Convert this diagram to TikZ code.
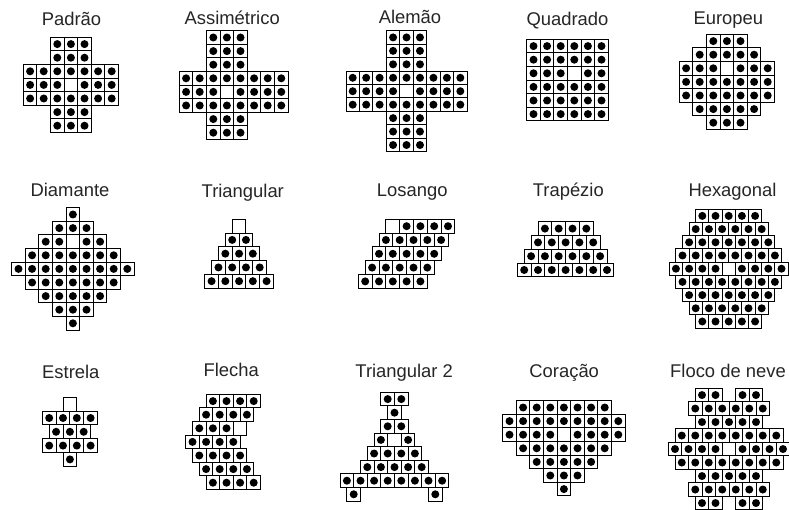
\documentclass[tikz,border=0pt]{standalone}
\usepackage{fontspec}
\setmainfont{Liberation Sans}
\tikzset{
  cellbox/.style={draw=black, line width=1pt, fill=white},
  pegdot/.style={fill=black},
  ttl/.style={anchor=base, inner sep=0pt, font=\fontsize{18.4}{22}\selectfont, text=black!85},
  ttlw/.style={ttl, anchor=base west}
}
\newcommand\setboard[3]{\def\brdx{#1}\def\brdy{#2}\def\brds{#3}}
% #1 row index, #2 offset (cells), #3 list: 1 peg, 0 empty hole, 2 none
\newcommand\pegrow[3]{%
  \foreach \k [count=\c from 0] in {#3} {%
    \ifnum\k<2\relax
      \pgfmathsetmacro\pgx{\brdx+(#2+\c)*\brds}%
      \pgfmathsetmacro\pgy{\brdy+(#1)*\brds}%
      \draw[cellbox] (\pgx,\pgy) rectangle ++(\brds,\brds);%
      \ifnum\k=1\relax
        \fill[pegdot] (\pgx+0.5*\brds,\pgy+0.5*\brds) circle[radius=4pt];%
      \fi
    \fi
  }}
\begin{document}
\begin{tikzpicture}[x=1pt,y=-1pt]
\useasboundingbox (0,0) rectangle (789,510);
\clip (0,0) rectangle (789,510);
\fill[white] (0,0) rectangle (789,510);

% ---------- Row 1 ----------
\node[ttl] (tPadrao) at (71.5,25.3) {Padrão};
\setboard{23.3}{37.3}{13.6}
\pegrow{0}{2}{1,1,1}
\pegrow{1}{2}{1,1,1}
\pegrow{2}{0}{1,1,1,1,1,1,1}
\pegrow{3}{0}{1,1,1,0,1,1,1}
\pegrow{4}{0}{1,1,1,1,1,1,1}
\pegrow{5}{2}{1,1,1}
\pegrow{6}{2}{1,1,1}

\node[ttl] (tAssim) at (232.2,25) {Assimétrico};
\setboard{179.3}{30.7}{13.6}
\pegrow{0}{2}{1,1,1}
\pegrow{1}{2}{1,1,1}
\pegrow{2}{2}{1,1,1}
\pegrow{3}{0}{1,1,1,1,1,1,1,1}
\pegrow{4}{0}{1,1,1,0,1,1,1,1}
\pegrow{5}{0}{1,1,1,1,1,1,1,1}
\pegrow{6}{2}{1,1,1}
\pegrow{7}{2}{1,1,1}

\node[ttl] (tAlemao) at (410,24) {Alemão};
\setboard{346}{30.7}{13.45}
\pegrow{0}{3}{1,1,1}
\pegrow{1}{3}{1,1,1}
\pegrow{2}{3}{1,1,1}
\pegrow{3}{0}{1,1,1,1,1,1,1,1,1}
\pegrow{4}{0}{1,1,1,1,0,1,1,1,1}
\pegrow{5}{0}{1,1,1,1,1,1,1,1,1}
\pegrow{6}{3}{1,1,1}
\pegrow{7}{3}{1,1,1}
\pegrow{8}{3}{1,1,1}

\node[ttl] (tQuad) at (567.5,26) {Quadrado};
\setboard{526.7}{39.3}{13.6}
\pegrow{0}{0}{1,1,1,1,1,1}
\pegrow{1}{0}{1,1,1,1,1,1}
\pegrow{2}{0}{1,1,1,0,1,1}
\pegrow{3}{0}{1,1,1,1,1,1}
\pegrow{4}{0}{1,1,1,1,1,1}
\pegrow{5}{0}{1,1,1,1,1,1}

\node[ttl] (tEuro) at (728.3,25) {Europeu};
\setboard{679.3}{34.3}{13.6}
\pegrow{0}{2}{1,1,1}
\pegrow{1}{1}{1,1,1,1,1}
\pegrow{2}{0}{1,1,1,0,1,1,1}
\pegrow{3}{0}{1,1,1,1,1,1,1}
\pegrow{4}{0}{1,1,1,1,1,1,1}
\pegrow{5}{1}{1,1,1,1,1}
\pegrow{6}{2}{1,1,1}

% ---------- Row 2 ----------
\node[ttl] (tDiam) at (70,196.7) {Diamante};
\setboard{11.7}{207.7}{13.6}
\pegrow{0}{4}{1}
\pegrow{1}{3}{1,1,1}
\pegrow{2}{2}{1,1,0,1,1}
\pegrow{3}{1}{1,1,1,1,1,1,1}
\pegrow{4}{0}{1,1,1,1,1,1,1,1,1}
\pegrow{5}{1}{1,1,1,1,1,1,1}
\pegrow{6}{2}{1,1,1,1,1}
\pegrow{7}{3}{1,1,1}
\pegrow{8}{4}{1}

\node[ttl] (tTri) at (242.8,197.5) {Triangular};
\setboard{204.7}{219.3}{13.75}
\pegrow{0}{2}{0}
\pegrow{1}{1.5}{1,1}
\pegrow{2}{1}{1,1,1}
\pegrow{3}{0.5}{1,1,1,1}
\pegrow{4}{0}{1,1,1,1,1}

\node[ttl] (tLos) at (412.2,196.7) {Losango};
\setboard{358.3}{219.3}{13.8}
\pegrow{0}{2}{0,1,1,1,1}
\pegrow{1}{1.5}{1,1,1,1,1}
\pegrow{2}{1}{1,1,1,1,1}
\pegrow{3}{0.5}{1,1,1,1,1}
\pegrow{4}{0}{1,1,1,1,1}

\node[ttl] (tTrap) at (568.3,196.7) {Trapézio};
\setboard{517.3}{221.7}{13.8}
\pegrow{0}{1.5}{1,1,1,1}
\pegrow{1}{1}{1,1,1,1,1}
\pegrow{2}{0.5}{1,1,1,1,1,1}
\pegrow{3}{0}{1,1,1,1,1,1,1}

\node[ttl] (tHex) at (732.5,196.7) {Hexagonal};
\setboard{669.3}{209.3}{13.2}
\pegrow{0}{2}{1,1,1,1,1}
\pegrow{1}{1.5}{1,1,1,1,1,1}
\pegrow{2}{1}{1,1,1,1,1,1,1}
\pegrow{3}{0.5}{1,1,1,1,1,1,1,1}
\pegrow{4}{0}{1,1,1,1,0,1,1,1,1}
\pegrow{5}{0.5}{1,1,1,1,1,1,1,1}
\pegrow{6}{1}{1,1,1,1,1,1,1}
\pegrow{7}{1.5}{1,1,1,1,1,1}
\pegrow{8}{2}{1,1,1,1,1}

% ---------- Row 3 ----------
\node[ttl] (tEst) at (70.8,378.3) {Estrela};
\setboard{42.3}{397.3}{13.8}
\pegrow{0}{1.5}{0}
\pegrow{1}{0}{1,1,1,1}
\pegrow{2}{0.5}{1,1,1}
\pegrow{3}{0}{1,1,1,1}
\pegrow{4}{1.5}{1}

\node[ttl] (tFle) at (231.2,376.7) {Flecha};
\setboard{185.7}{394.3}{13.6}
\pegrow{0}{1.5}{1,1,1,1}
\pegrow{1}{1}{1,1,1,1}
\pegrow{2}{0.5}{1,1,1,0}
\pegrow{3}{0}{1,1,1,1}
\pegrow{4}{0.5}{1,1,1,1}
\pegrow{5}{1}{1,1,1,1}
\pegrow{6}{1.5}{1,1,1,1}

\node[ttl] (tTri2) at (404.2,377.7) {Triangular 2};
\setboard{340.1}{392.3}{13.6}
\pegrow{0}{3}{1,1}
\pegrow{1}{3.5}{1}
\pegrow{2}{3}{1,1}
\pegrow{3}{2.5}{1,0,1}
\pegrow{4}{2}{1,1,1,1}
\pegrow{5}{1.5}{1,1,1,1,1}
\pegrow{6}{0}{1,1,1,1,1,1,1,1}
\pegrow{7}{0.5}{1,2,2,2,2,2,1}

\node[ttl] (tCor) at (564.2,377.7) {Coração};
\setboard{502.7}{400.7}{13.6}
\pegrow{0}{1}{1,1,1,1,1,1,1}
\pegrow{1}{0}{1,1,1,1,1,1,1,1,1}
\pegrow{2}{0}{1,1,1,1,0,1,1,1,1}
\pegrow{3}{1}{1,1,1,1,1,1,1}
\pegrow{4}{2}{1,1,1,1,1}
\pegrow{5}{3}{1,1,1}
\pegrow{6}{4}{1}

\node[ttlw] (tFloco) at (670,377.7) {Floco de neve};
\setboard{668.25}{388.3}{13.5}
\pegrow{0}{2}{1,1,2,1,1}
\pegrow{1}{1.5}{1,1,1,1,1,1}
\pegrow{2}{2}{1,1,1,1,1}
\pegrow{3}{0.5}{1,1,1,1,1,1,1,1}
\pegrow{4}{0}{1,1,1,1,0,1,1,1,1}
\pegrow{5}{0.5}{1,1,1,1,1,1,1,1}
\pegrow{6}{2}{1,1,1,1,1}
\pegrow{7}{1.5}{1,1,1,1,1,1}
\pegrow{8}{2}{1,1,2,1,1}
\end{tikzpicture}
\end{document}
